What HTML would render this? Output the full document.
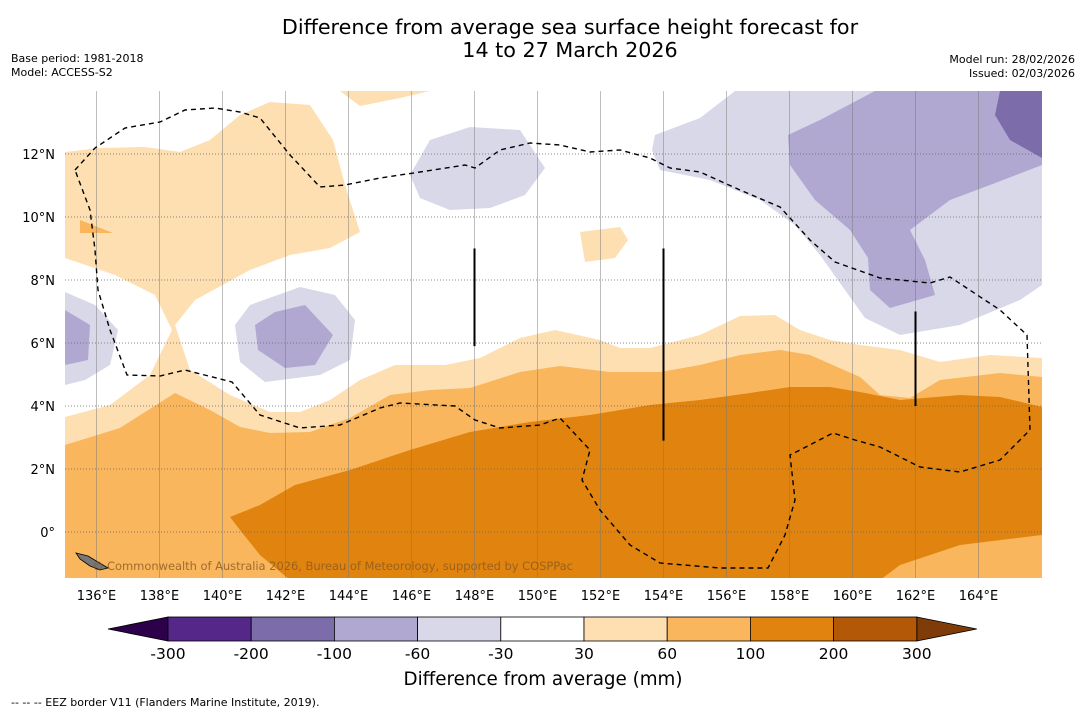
<!DOCTYPE html>
<html><head><meta charset="utf-8"><style>
body{margin:0;background:#fff;font-family:"DejaVu Sans","Liberation Sans",sans-serif;}
</style></head><body>
<svg id="chart" width="1085" height="713" xmlns="http://www.w3.org/2000/svg" font-family="DejaVu Sans, Liberation Sans, sans-serif">
<rect width="1085" height="713" fill="#fff"/>
<text x="570" y="34" font-size="20.7" text-anchor="middle">Difference from average sea surface height forecast for</text>
<text x="570" y="57" font-size="20.7" text-anchor="middle">14 to 27 March 2026</text>
<text x="11" y="62" font-size="11">Base period: 1981-2018</text>
<text x="11" y="76" font-size="11">Model: ACCESS-S2</text>
<text x="1075" y="63" font-size="11" text-anchor="end">Model run: 28/02/2026</text>
<text x="1075" y="77" font-size="11" text-anchor="end">Issued: 02/03/2026</text>
<defs><clipPath id="mapclip"><rect x="65" y="91" width="977" height="487"/></clipPath></defs>
<g id="map" clip-path="url(#mapclip)"><rect x="65" y="91" width="977" height="487" fill="#fff"/></g>
<g id="overlay"></g>
<g id="cbar"></g>
<text x="543" y="685" font-size="18.3" text-anchor="middle">Difference from average (mm)</text>
<text x="11" y="706" font-size="11">--  --  -- EEZ border V11 (Flanders Marine Institute, 2019).</text>
</svg>
<script>
const NS="http://www.w3.org/2000/svg";
const lonTicks=[136,138,140,142,144,146,148,150,152,154,156,158,160,162,164];
const latTicks=[0,2,4,6,8,10,12];
const cbarLevels=[-300,-200,-100,-60,-30,30,60,100,200,300];
const cbarColors=["#542788","#7c6ca9","#b0a8d0","#d8d8e9","#ffffff","#fddfb2","#f9b65c","#e0830f","#b35806"];
const P=a=>a.map(([x,y])=>[135+(x-65)/31.5,14-(y-91)/31.5]);
const regions=[
 {level:30,pts:P([[65,152],[100,148],[145,147],[180,152],[210,140],[240,115],[270,102],[310,105],[333,140],[345,185],[360,232],[330,248],[290,255],[250,270],[195,300],[175,325],[190,370],[230,395],[270,412],[300,412],[330,400],[360,380],[395,365],[445,365],[480,358],[520,338],[555,330],[600,340],[620,348],[650,348],[700,335],[740,316],[775,315],[800,330],[830,340],[860,345],[900,350],[940,362],[990,355],[1042,358],[1042,578],[65,578],[65,417],[110,405],[150,375],[172,330],[155,295],[115,275],[65,258]])},
 {level:30,pts:P([[580,232],[620,227],[628,240],[615,258],[585,262]])},
 {level:30,pts:P([[340,91],[430,91],[400,98],[360,106]])},
 {level:60,pts:P([[80,220],[113,233],[80,233]])},
 {level:60,pts:P([[65,445],[120,428],[175,393],[210,410],[240,427],[270,433],[310,432],[350,418],[390,395],[430,390],[470,388],[520,372],[560,366],[610,372],[660,372],[700,365],[740,355],[780,350],[810,355],[860,377],[880,395],[910,398],[940,380],[1000,373],[1042,377],[1042,578],[65,578]])},
 {level:100,pts:P([[230,517],[260,505],[295,485],[350,470],[410,450],[470,432],[530,422],[590,415],[650,405],[700,400],[750,393],[790,387],[830,387],[860,392],[900,400],[960,395],[1000,397],[1042,407],[1042,535],[960,545],[900,565],[880,580],[290,580],[260,555],[240,530]])},
 {level:-30,pts:P([[65,292],[95,305],[118,330],[110,365],[85,380],[65,385]])},
 {level:-30,pts:P([[235,325],[250,305],[300,287],[335,295],[355,320],[350,360],[320,375],[265,382],[240,362]])},
 {level:-30,pts:P([[410,175],[430,140],[470,127],[520,130],[545,168],[525,195],[490,208],[450,210],[420,198]])},
 {level:-30,pts:P([[655,135],[700,118],[735,91],[1042,91],[1042,285],[1020,300],[960,325],[900,335],[865,318],[845,290],[820,255],[795,225],[760,200],[710,180],[660,170],[652,150]])},
 {level:-60,pts:P([[65,310],[90,325],[88,360],[65,365]])},
 {level:-60,pts:P([[255,325],[275,312],[305,305],[333,335],[315,365],[285,368],[258,350]])},
 {level:-60,pts:P([[788,135],[820,120],[875,91],[1042,91],[1042,165],[990,185],[950,200],[910,230],[925,260],[935,295],[890,308],[870,290],[868,258],[850,230],[815,200],[790,165]])},
 {level:-100,pts:P([[1000,91],[1042,91],[1042,158],[1010,140],[995,115]])}
];
const eez=P([[75,170],[95,148],[125,128],[160,122],[185,110],[215,108],[240,112],[260,118],[290,155],[320,187],[345,185],[380,178],[420,172],[465,165],[475,168],[500,150],[530,143],[560,145],[590,152],[620,150],[650,158],[670,168],[700,172],[740,190],[780,207],[810,240],[835,262],[880,278],[930,283],[950,277],[1000,310],[1027,335],[1030,430],[1000,460],[960,472],[920,467],[880,447],[855,440],[833,433],[800,450],[790,455],[795,500],[785,535],[768,568],[720,568],[660,563],[630,545],[600,510],[582,480],[590,450],[560,418],[540,425],[500,428],[475,420],[455,406],[400,403],[380,408],[340,425],[300,428],[260,415],[232,382],[185,370],[160,376],[127,375],[110,330],[98,290],[95,250],[90,210],[75,170]]);
const bars=[{lon:148,lat0:5.9,lat1:9},{lon:154,lat0:2.9,lat1:9},{lon:162,lat0:4,lat1:7}];
const sx=lon=>65+(lon-135)*31.5;
const sy=lat=>91+(14-lat)*31.5;
const colorFor=l=>{const i=cbarLevels.indexOf(l);return l>0?cbarColors[i]:cbarColors[i-1];};
const map=document.getElementById('map'),ov=document.getElementById('overlay'),cb=document.getElementById('cbar');
function mk(t,a,p){const e=document.createElementNS(NS,t);for(const k in a)e.setAttribute(k,a[k]);p.appendChild(e);return e;}
regions.forEach((r,i)=>{const e=mk('polygon',{points:r.pts.map(([a,b])=>sx(a)+','+sy(b)).join(' '),fill:colorFor(r.level)},map);

});
lonTicks.forEach(l=>{const e=mk('line',{x1:sx(l),x2:sx(l),y1:91,y2:578,stroke:'#777','stroke-width':0.6,'stroke-opacity':0.8},ov);


const t=mk('text',{x:sx(l),y:600,'font-size':13,'text-anchor':'middle'},ov);t.textContent=l+'°E';

});
latTicks.forEach(l=>{const e=mk('line',{x1:65,x2:1042,y1:sy(l),y2:sy(l),stroke:'#666','stroke-width':0.7,'stroke-dasharray':'1,2'},ov);


const t=mk('text',{x:55,y:sy(l)+5,'font-size':13,'text-anchor':'end'},ov);t.textContent=l===0?'0°':l+'°N';

});
const ez=mk('polyline',{points:eez.map(([a,b])=>sx(a)+','+sy(b)).join(' '),fill:'none',stroke:'#000','stroke-width':1.4,'stroke-dasharray':'5,4'},ov);


bars.forEach(b=>{const e=mk('line',{x1:sx(b.lon),x2:sx(b.lon),y1:sy(b.lat1),y2:sy(b.lat0),stroke:'#000','stroke-width':2},ov);

});
const isl=mk('polygon',{points:'76,553 88,556 98,562 108,568 100,570 90,566 80,559',fill:'#777',stroke:'#000','stroke-width':0.8},ov);


const wm=mk('text',{x:92,y:570,'font-size':11.5,fill:'#8a5a20','fill-opacity':0.8,textLength:481},ov);wm.textContent='© Commonwealth of Australia 2026, Bureau of Meteorology, supported by COSPPac';


const cx0=168,cw=83.2,cy=617,ch=24;
const lt=mk('polygon',{points:`108,${cy+ch/2} ${cx0},${cy} ${cx0},${cy+ch}`,fill:'#2d004b',stroke:'#000','stroke-width':0.8},cb);


const xr=cx0+cw*cbarColors.length;
const rt=mk('polygon',{points:`${xr},${cy} ${xr+60},${cy+ch/2} ${xr},${cy+ch}`,fill:'#7f3b08',stroke:'#000','stroke-width':0.8},cb);


cbarColors.forEach((c,i)=>{const e=mk('rect',{x:cx0+i*cw,y:cy,width:cw,height:ch,fill:c,stroke:'#000','stroke-width':0.8},cb);

});
cbarLevels.forEach((v,i)=>{const t=mk('text',{x:cx0+i*cw,y:659,'font-size':15.5,'text-anchor':'middle'},cb);t.textContent=v;

});
</script>
</body></html>
